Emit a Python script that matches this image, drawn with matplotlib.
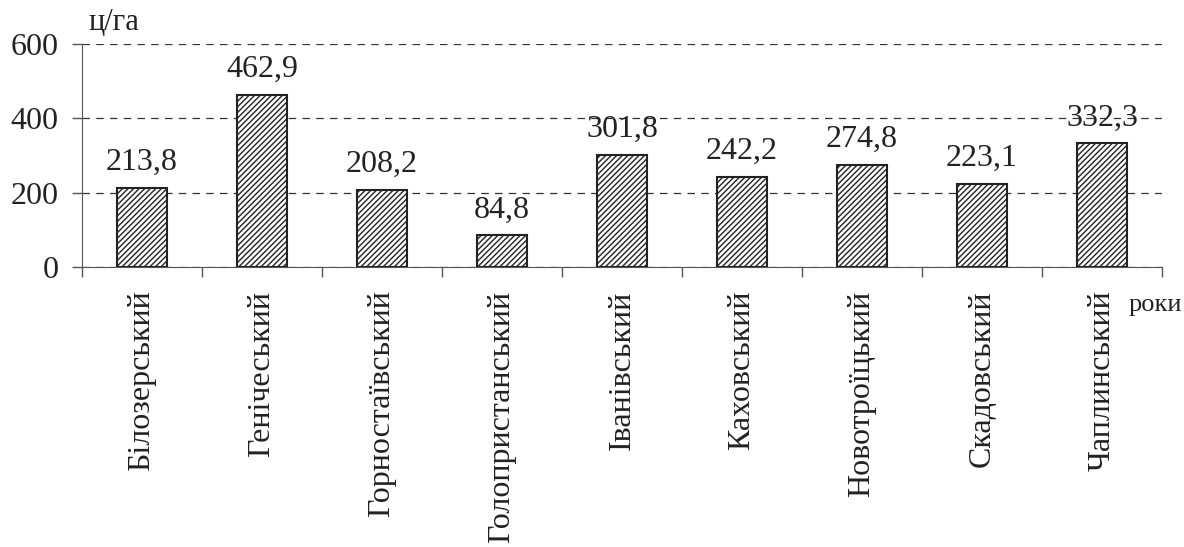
import matplotlib
matplotlib.use("Agg")
import matplotlib.pyplot as plt
from matplotlib.ticker import FixedLocator, NullFormatter

categories = ["Білозерський", "Генічеський", "Горностаївський", "Голопристанський",
              "Іванівський", "Каховський", "Новотроїцький", "Скадовський", "Чаплинський"]
values = [213.8, 462.9, 208.2, 84.8, 301.8, 242.2, 274.8, 223.1, 332.3]
value_labels = ["213,8", "462,9", "208,2", "84,8", "301,8", "242,2", "274,8", "223,1", "332,3"]
yticks = [0, 200, 400, 600]

plt.rcParams['font.family'] = ['Liberation Serif', 'DejaVu Serif']
plt.rcParams['hatch.color'] = '#333333'
plt.rcParams['hatch.linewidth'] = 1.0

fig = plt.figure(figsize=(11.84, 5.47), dpi=100)
ax = fig.add_axes([82/1184, 1-267/547, (1162-82)/1184, (267-44)/547])

x = list(range(len(categories)))
ax.bar(x, values, width=0.41, color='white', edgecolor='#222222', linewidth=1.5,
       hatch='//////', zorder=3)

for xi, v, lab in zip(x, values, value_labels):
    ax.annotate(lab, (xi, v), xytext=(0, 13), textcoords='offset points',
                ha='center', va='baseline', fontsize=23, color='#222222', zorder=4)

ax.set_xlim(-0.5, len(categories) - 0.5)
ax.set_ylim(0, 600)
ax.set_yticks(yticks)
ax.set_yticklabels([str(t) for t in yticks], fontsize=23)
ax.yaxis.grid(True, linestyle=(0, (6, 5)), color='#333333', linewidth=0.9, zorder=1)

ax.set_xticks(x)
ax.set_xticklabels(categories, rotation=90, fontsize=23, va='top', ha='center')
ax.tick_params(axis='x', which='major', length=0, pad=17, labelcolor='#222222')
ax.xaxis.set_minor_locator(FixedLocator([i - 0.5 for i in range(len(categories) + 1)]))
ax.xaxis.set_minor_formatter(NullFormatter())
ax.tick_params(axis='x', which='minor', length=7, width=1, color='#555555', direction='out')
ax.tick_params(axis='y', length=7, width=1, color='#555555', pad=10, labelcolor='#222222')

for s in ['top', 'right']:
    ax.spines[s].set_visible(False)
ax.spines['left'].set_color('#555555')
ax.spines['bottom'].set_color('#555555')
ax.spines['left'].set_bounds(0, 600)

fig.text(88/1184, 1-22/547, "ц/га", fontsize=22, color='#222222', ha='left', va='center')
fig.text(1129/1184, 1-305/547, "роки", fontsize=19, color='#222222', ha='left', va='center')

fig.savefig("out.png", dpi=100)
